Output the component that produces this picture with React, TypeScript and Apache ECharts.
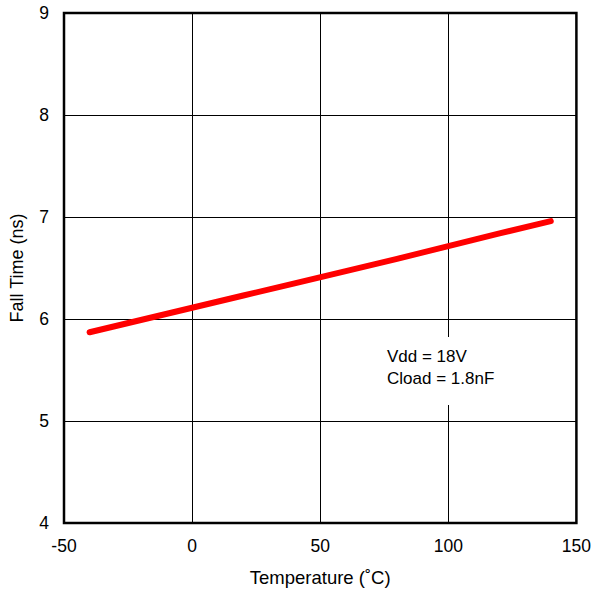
import React, { useEffect, useRef } from "react";
import * as echarts from "echarts";

const temperatures = [-40, -20, 0, 20, 40, 60, 80, 100, 120, 140];
const fallTimes = [5.87, 5.99, 6.11, 6.23, 6.35, 6.47, 6.59, 6.715, 6.84, 6.96];
const annotationLines = ["Vdd = 18V", "Cload = 1.8nF"];

export default function App() {
  const ref = useRef<HTMLDivElement>(null);
  useEffect(() => {
    if (!ref.current) return;
    const chart = echarts.init(ref.current, null, { renderer: "svg" });
    const font = "Liberation Sans, Arial, sans-serif";
    chart.setOption({
      animation: false,
      backgroundColor: "#ffffff",
      grid: {
        left: 64,
        top: 13,
        right: 16,
        bottom: 67,
        show: true,
        borderColor: "#000",
        borderWidth: 2.5,
        backgroundColor: "transparent",
      },
      xAxis: {
        type: "value",
        min: -50,
        max: 150,
        interval: 50,
        name: "Temperature (˚C)",
        nameLocation: "middle",
        nameGap: 45,
        nameTextStyle: { color: "#000", fontSize: 18.5, fontFamily: font },
        axisLine: { show: false },
        axisTick: { show: false },
        axisLabel: { color: "#000", fontSize: 17.5, fontFamily: font, margin: 14 },
        splitLine: { show: true, lineStyle: { color: "#000", width: 1 } },
      },
      yAxis: {
        type: "value",
        min: 4,
        max: 9,
        interval: 1,
        name: "Fall Time (ns)",
        nameLocation: "middle",
        nameGap: 38,
        nameTextStyle: { color: "#000", fontSize: 18, fontFamily: font },
        axisLine: { show: false },
        axisTick: { show: false },
        axisLabel: { color: "#000", fontSize: 17.5, fontFamily: font, margin: 15 },
        splitLine: { show: true, lineStyle: { color: "#000", width: 1 } },
      },
      series: [
        {
          type: "line",
          data: temperatures.map((t, i) => [t, fallTimes[i]]),
          showSymbol: false,
          lineStyle: { color: "#ff0000", width: 6, cap: "round", join: "round" },
          z: 3,
        },
      ],
      graphic: [
        {
          type: "rect",
          shape: { x: 380, y: 337, width: 122, height: 68 },
          style: { fill: "#ffffff" },
          z: 10,
        },
        {
          type: "text",
          x: 387,
          y: 345,
          style: {
            text: annotationLines.join("\n"),
            fill: "#000",
            fontSize: 17,
            fontFamily: font,
            lineHeight: 22,
          },
          z: 11,
        },
      ],
    });
    return () => chart.dispose();
  }, []);
  return <div ref={ref} style={{ width: 594, height: 592, position: "absolute", left: 0, top: 0 }} />;
}
